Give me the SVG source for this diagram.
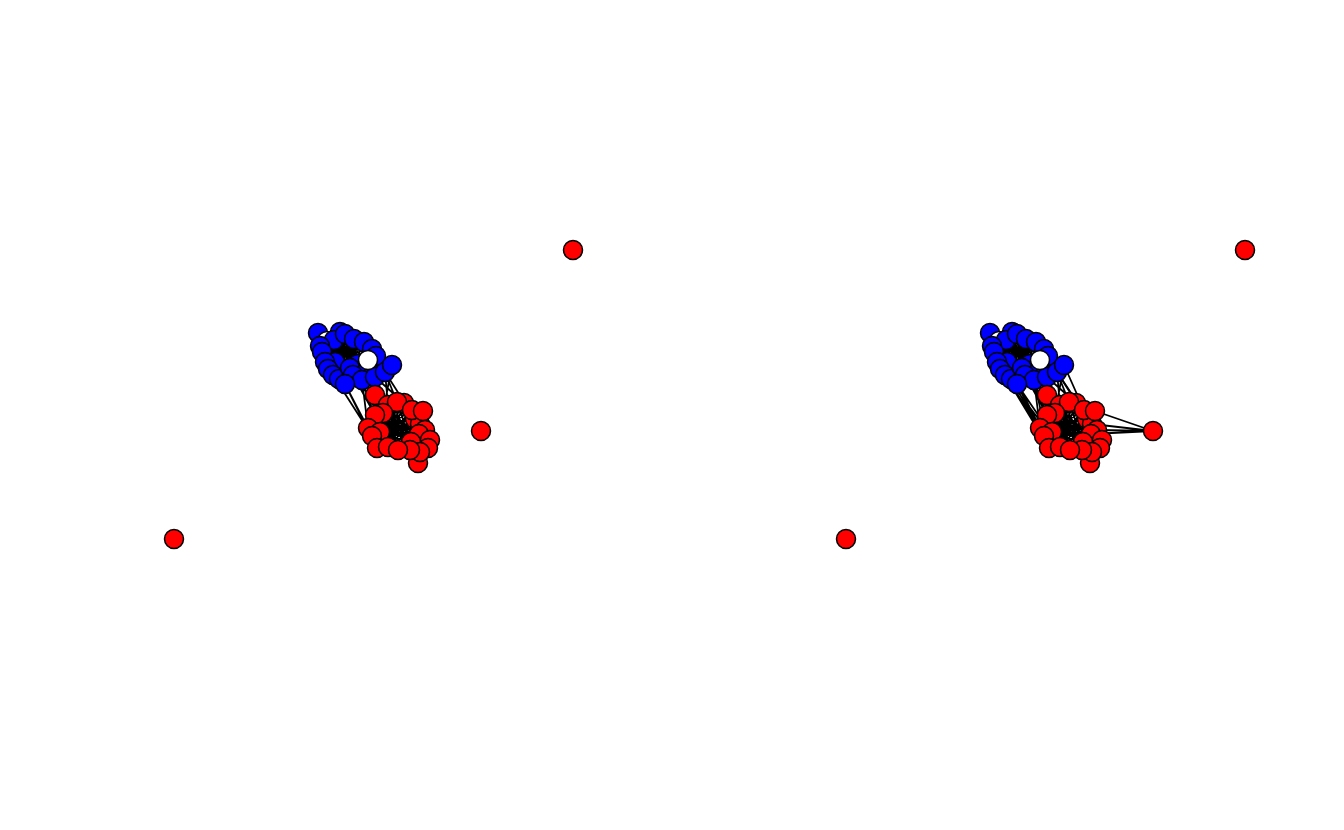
<svg xmlns="http://www.w3.org/2000/svg" width="1344" height="830" viewBox="0 0 1344 830">
<style>
.e{stroke:#000;stroke-width:1.8;fill:none}
.n{stroke:#000;stroke-width:1.5}
.b{fill:#0000ff}.r{fill:#ff0000}.w{fill:#ffffff}
</style>
<defs>
<path id="blue-edges" d="M318,333L368,369M318,333L375,377M318,333L385,372M318,333L353,375M334,340L362,380M334,340L368,369M334,340L345,384M334,340L385,372M327,341L353,375M327,341L375,377M327,341L392,365M345,334L333,375M345,334L339,379M345,334L325,362M345,334L328,369M354,339L328,369M354,339L333,375M354,339L322,352M354,339L345,384M364,342L325,362M364,342L339,379M364,342L333,375M364,342L320,346M372,349L322,352M372,349L328,369M372,349L345,384M372,349L320,346M376,356L322,352M376,356L325,362M376,356L333,375M368,360L320,346M368,360L325,362M368,360L322,352M392,365L322,352M392,365L320,346M392,365L325,362M385,372L322,352M385,372L328,369M325,362L375,377M328,369L392,365M333,375L368,369M345,384L340,332M345,384L364,342M353,375L320,346M353,375L340,332M362,380L322,352M362,380L340,332M375,377L320,346M339,379L340,332M339,379L372,349M340,332L385,372M340,332L368,369M320,346L362,380M322,352L375,377M318,333L339,379M335,362L364,342M350,368L334,340M358,364L318,333M335,362L376,356M350,368L354,339"/>
<path id="red-edges" d="M375,395L411,442M375,395L428,448M375,395L410,450M388,405L398,450M388,405L410,450M388,405L420,452M397,402L388,447M397,402L377,448M397,402L398,450M404,403L377,448M404,403L372,436M404,403L388,447M412,410L372,436M412,410L368,428M412,410L388,447M423,411L380,432M423,411L377,448M423,411L372,436M383,413L419,434M383,413L430,440M383,413L428,448M375,415L425,430M375,415L419,434M375,415L420,452M415,419L368,428M415,419L377,448M420,424L380,432M420,424L388,447M368,428L425,430M368,428L430,440M380,432L428,448M380,432L411,442M372,436L420,424M372,436L419,434M377,448L412,410M388,447L415,419M398,450L375,395M398,450L375,415M410,450L383,413M420,452L368,428M418,463L388,405M418,463L397,402M418,463L380,432M411,442L375,415M428,448L368,428M425,430L372,436M430,440L380,432M397,402L380,432M412,410L375,415"/>
<path id="inter-edges" d="M345,384L372,436M345,384L377,448M333,375L372,436M362,380L375,395M375,377L375,395M375,377L388,405M385,372L397,402M392,365L383,413M385,372L388,405M353,375L375,415M362,380L380,432M375,377L404,403M385,372L415,419M339,379L375,395M362,380L368,428M368,369L383,413M353,375L388,405M358,364L388,405M350,368L375,395"/>
</defs>
<rect width="1344" height="830" fill="#fff"/>
<g id="connectors">
<g id="edges-left" class="e">
<use href="#blue-edges"/>
<use href="#red-edges"/>
<use href="#inter-edges"/>
</g>
<g id="edges-right" class="e" transform="translate(672,0)">
<use href="#blue-edges"/>
<use href="#red-edges"/>
<use href="#inter-edges"/>
<path d="M333,375L388,447M328,369L372,436M345,384L388,447M325,362L377,448M362,380L377,448M333,375L377,448M328,369L368,428M339,379L372,436M353,375L398,450M385,372L420,424M392,365L412,410M335,362L372,436"/>
<path d="M481,431L423,411M481,431L425,430M481,431L420,424M481,431L419,434"/>
</g>
</g>
<g id="nodes-left">
<g id="L_b22"><circle class="n b" cx="340" cy="332" r="9.5"/></g>
<g id="L_b1"><circle class="n b" cx="318" cy="333" r="9.5"/></g>
<g id="L_w1"><circle class="n w" cx="327" cy="341" r="9.5"/></g>
<g id="L_b2"><circle class="n b" cx="334" cy="340" r="9.5"/></g>
<g id="L_b4"><circle class="n b" cx="345" cy="334" r="9.5"/></g>
<g id="L_b5"><circle class="n b" cx="354" cy="339" r="9.5"/></g>
<g id="L_b6"><circle class="n b" cx="364" cy="342" r="9.5"/></g>
<g id="L_b7"><circle class="n b" cx="372" cy="349" r="9.5"/></g>
<g id="L_b8"><circle class="n b" cx="376" cy="356" r="9.5"/></g>
<g id="L_b18"><circle class="n b" cx="320" cy="346" r="9.5"/></g>
<g id="L_b20"><circle class="n b" cx="322" cy="352" r="9.5"/></g>
<g id="L_b23"><circle class="n b" cx="335" cy="362" r="9.5"/></g>
<g id="L_b11"><circle class="n b" cx="325" cy="362" r="9.5"/></g>
<g id="L_b12"><circle class="n b" cx="328" cy="369" r="9.5"/></g>
<g id="L_b13"><circle class="n b" cx="333" cy="375" r="9.5"/></g>
<g id="L_b21"><circle class="n b" cx="339" cy="379" r="9.5"/></g>
<g id="L_b25"><circle class="n b" cx="358" cy="364" r="9.5"/></g>
<g id="L_b24"><circle class="n b" cx="350" cy="368" r="9.5"/></g>
<g id="L_b19"><circle class="n b" cx="368" cy="369" r="9.5"/></g>
<g id="L_b15"><circle class="n b" cx="353" cy="375" r="9.5"/></g>
<g id="L_b16"><circle class="n b" cx="362" cy="380" r="9.5"/></g>
<g id="L_b17"><circle class="n b" cx="375" cy="377" r="9.5"/></g>
<g id="L_b14"><circle class="n b" cx="345" cy="384" r="9.5"/></g>
<g id="L_b10"><circle class="n b" cx="385" cy="372" r="9.5"/></g>
<g id="L_w2"><circle class="n w" cx="368" cy="360" r="9.5"/></g>
<g id="L_b9"><circle class="n b" cx="392" cy="365" r="9.5"/></g>
<g id="L_r1"><circle class="n r" cx="375" cy="395" r="9.5"/></g>
<g id="L_r7"><circle class="n r" cx="388" cy="405" r="9.5"/></g>
<g id="L_r20"><circle class="n r" cx="404" cy="403" r="9.5"/></g>
<g id="L_r2"><circle class="n r" cx="397" cy="402" r="9.5"/></g>
<g id="L_r22"><circle class="n r" cx="415" cy="419" r="9.5"/></g>
<g id="L_r24"><circle class="n r" cx="420" cy="424" r="9.5"/></g>
<g id="L_r3"><circle class="n r" cx="412" cy="410" r="9.5"/></g>
<g id="L_r4"><circle class="n r" cx="423" cy="411" r="9.5"/></g>
<g id="L_r6"><circle class="n r" cx="383" cy="413" r="9.5"/></g>
<g id="L_r5"><circle class="n r" cx="375" cy="415" r="9.5"/></g>
<g id="L_r19"><circle class="n r" cx="368" cy="428" r="9.5"/></g>
<g id="L_r10"><circle class="n r" cx="380" cy="432" r="9.5"/></g>
<g id="L_r9"><circle class="n r" cx="372" cy="436" r="9.5"/></g>
<g id="L_r8"><circle class="n r" cx="425" cy="430" r="9.5"/></g>
<g id="L_r18"><circle class="n r" cx="419" cy="434" r="9.5"/></g>
<g id="L_r23"><circle class="n r" cx="430" cy="440" r="9.5"/></g>
<g id="L_r17"><circle class="n r" cx="411" cy="442" r="9.5"/></g>
<g id="L_r14"><circle class="n r" cx="428" cy="448" r="9.5"/></g>
<g id="L_r15"><circle class="n r" cx="418" cy="463" r="9.5"/></g>
<g id="L_r13"><circle class="n r" cx="420" cy="452" r="9.5"/></g>
<g id="L_r16"><circle class="n r" cx="410" cy="450" r="9.5"/></g>
<g id="L_r11"><circle class="n r" cx="377" cy="448" r="9.5"/></g>
<g id="L_r21"><circle class="n r" cx="388" cy="447" r="9.5"/></g>
<g id="L_r12"><circle class="n r" cx="398" cy="450" r="9.5"/></g>
<g id="L_o1"><circle class="n r" cx="573" cy="250" r="9.5"/></g>
<g id="L_o2"><circle class="n r" cx="481" cy="431" r="9.5"/></g>
<g id="L_o3"><circle class="n r" cx="174" cy="539" r="9.5"/></g>
</g>
<g id="nodes-right" transform="translate(672,0)">
<g id="R_b22"><circle class="n b" cx="340" cy="332" r="9.5"/></g>
<g id="R_b1"><circle class="n b" cx="318" cy="333" r="9.5"/></g>
<g id="R_w1"><circle class="n w" cx="327" cy="341" r="9.5"/></g>
<g id="R_b2"><circle class="n b" cx="334" cy="340" r="9.5"/></g>
<g id="R_b4"><circle class="n b" cx="345" cy="334" r="9.5"/></g>
<g id="R_b5"><circle class="n b" cx="354" cy="339" r="9.5"/></g>
<g id="R_b6"><circle class="n b" cx="364" cy="342" r="9.5"/></g>
<g id="R_b7"><circle class="n b" cx="372" cy="349" r="9.5"/></g>
<g id="R_b8"><circle class="n b" cx="376" cy="356" r="9.5"/></g>
<g id="R_b18"><circle class="n b" cx="320" cy="346" r="9.5"/></g>
<g id="R_b20"><circle class="n b" cx="322" cy="352" r="9.5"/></g>
<g id="R_b23"><circle class="n b" cx="335" cy="362" r="9.5"/></g>
<g id="R_b11"><circle class="n b" cx="325" cy="362" r="9.5"/></g>
<g id="R_b12"><circle class="n b" cx="328" cy="369" r="9.5"/></g>
<g id="R_b13"><circle class="n b" cx="333" cy="375" r="9.5"/></g>
<g id="R_b21"><circle class="n b" cx="339" cy="379" r="9.5"/></g>
<g id="R_b25"><circle class="n b" cx="358" cy="364" r="9.5"/></g>
<g id="R_b24"><circle class="n b" cx="350" cy="368" r="9.5"/></g>
<g id="R_b19"><circle class="n b" cx="368" cy="369" r="9.5"/></g>
<g id="R_b15"><circle class="n b" cx="353" cy="375" r="9.5"/></g>
<g id="R_b16"><circle class="n b" cx="362" cy="380" r="9.5"/></g>
<g id="R_b17"><circle class="n b" cx="375" cy="377" r="9.5"/></g>
<g id="R_b14"><circle class="n b" cx="345" cy="384" r="9.5"/></g>
<g id="R_b10"><circle class="n b" cx="385" cy="372" r="9.5"/></g>
<g id="R_w2"><circle class="n w" cx="368" cy="360" r="9.5"/></g>
<g id="R_b9"><circle class="n b" cx="392" cy="365" r="9.5"/></g>
<g id="R_r1"><circle class="n r" cx="375" cy="395" r="9.5"/></g>
<g id="R_r7"><circle class="n r" cx="388" cy="405" r="9.5"/></g>
<g id="R_r20"><circle class="n r" cx="404" cy="403" r="9.5"/></g>
<g id="R_r2"><circle class="n r" cx="397" cy="402" r="9.5"/></g>
<g id="R_r22"><circle class="n r" cx="415" cy="419" r="9.5"/></g>
<g id="R_r24"><circle class="n r" cx="420" cy="424" r="9.5"/></g>
<g id="R_r3"><circle class="n r" cx="412" cy="410" r="9.5"/></g>
<g id="R_r4"><circle class="n r" cx="423" cy="411" r="9.5"/></g>
<g id="R_r6"><circle class="n r" cx="383" cy="413" r="9.5"/></g>
<g id="R_r5"><circle class="n r" cx="375" cy="415" r="9.5"/></g>
<g id="R_r19"><circle class="n r" cx="368" cy="428" r="9.5"/></g>
<g id="R_r10"><circle class="n r" cx="380" cy="432" r="9.5"/></g>
<g id="R_r9"><circle class="n r" cx="372" cy="436" r="9.5"/></g>
<g id="R_r8"><circle class="n r" cx="425" cy="430" r="9.5"/></g>
<g id="R_r18"><circle class="n r" cx="419" cy="434" r="9.5"/></g>
<g id="R_r23"><circle class="n r" cx="430" cy="440" r="9.5"/></g>
<g id="R_r17"><circle class="n r" cx="411" cy="442" r="9.5"/></g>
<g id="R_r14"><circle class="n r" cx="428" cy="448" r="9.5"/></g>
<g id="R_r15"><circle class="n r" cx="418" cy="463" r="9.5"/></g>
<g id="R_r13"><circle class="n r" cx="420" cy="452" r="9.5"/></g>
<g id="R_r16"><circle class="n r" cx="410" cy="450" r="9.5"/></g>
<g id="R_r11"><circle class="n r" cx="377" cy="448" r="9.5"/></g>
<g id="R_r21"><circle class="n r" cx="388" cy="447" r="9.5"/></g>
<g id="R_r12"><circle class="n r" cx="398" cy="450" r="9.5"/></g>
<g id="R_o1"><circle class="n r" cx="573" cy="250" r="9.5"/></g>
<g id="R_o2"><circle class="n r" cx="481" cy="431" r="9.5"/></g>
<g id="R_o3"><circle class="n r" cx="174" cy="539" r="9.5"/></g>
</g>
</svg>
